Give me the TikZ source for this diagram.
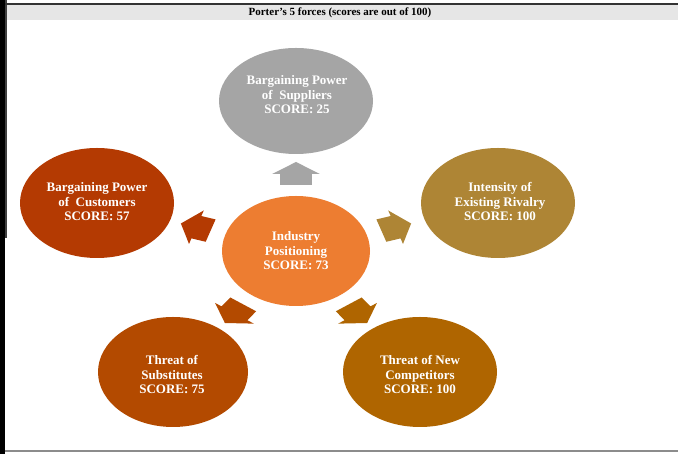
\documentclass[tikz,border=0pt]{standalone}
\usepackage{fontspec}
\setmainfont{Liberation Serif}
\usetikzlibrary{shapes.geometric}
\definecolor{hdr}{HTML}{E6E6E6}
\definecolor{supgray}{HTML}{A5A5A5}
\definecolor{custc}{HTML}{B43A02}
\definecolor{rivalc}{HTML}{AE8535}
\definecolor{centc}{HTML}{ED7D31}
\definecolor{substc}{HTML}{B34A00}
\definecolor{compc}{HTML}{AF6500}
\newcommand\forcearrow[2]{%
  \fill[#2, shift={(296,203)}, xscale=1.36, rotate=#1]
    (66,-11.75) -- (77,-11.75) -- (77,-17.6) -- (89,0) -- (77,17.6) -- (77,11.75) -- (66,11.75) -- cycle;}
\begin{document}
\begin{tikzpicture}[x=1pt,y=1pt,
  force/.style={ellipse, minimum width=154pt, minimum height=110pt, inner sep=0pt},
  ftext/.style={text=white, font=\fontsize{13}{14.5}\selectfont\bfseries, align=center, inner sep=0pt},
  titletext/.style={font=\fontsize{11}{13}\selectfont\bfseries, text=black}]
\useasboundingbox (0,0) rectangle (678,454);
\fill[white] (0,0) rectangle (678,454);
% frame
\fill[black] (0,0) rectangle (5,454);
\fill[black!75] (5,216) rectangle (6.5,454);
\fill[hdr] (6.5,433.5) rectangle (678,449);
\fill[black!80] (5,449) rectangle (678,450.5);
\fill[black!45] (5,2) rectangle (678,3.5);
\node[titletext] (title) at (340,441) {Porter's 5 forces (scores are out of 100)};
% arrows
\forcearrow{90}{supgray}
\forcearrow{162}{custc}
\forcearrow{18}{rivalc}
\forcearrow{234}{substc}
\forcearrow{306}{compc}
% ellipses
\node[force, fill=supgray, minimum height=106pt] (sup) at (296,353) {};
\node[ftext] (supT) at (297,359) {Bargaining Power\\of\ \ Suppliers\\SCORE: 25};
\node[force, fill=custc] (cust) at (97,251) {};
\node[ftext] (custT) at (97,252) {Bargaining Power\\of\ \ Customers\\SCORE: 57};
\node[force, fill=rivalc] (rival) at (498,251) {};
\node[ftext] (rivalT) at (500,252) {Intensity of\\Existing Rivalry\\SCORE: 100};
\node[force, fill=centc, minimum width=148pt] (center) at (296,203) {};
\node[ftext] (centerT) at (296,203) {Industry\\Positioning\\SCORE: 73};
\node[force, fill=substc, minimum width=150pt] (subst) at (173,82) {};
\node[ftext] (substT) at (172,79) {Threat of\\Substitutes\\SCORE: 75};
\node[force, fill=compc] (comp) at (420,82) {};
\node[ftext] (compT) at (420,79) {Threat of New\\Competitors\\SCORE: 100};
\end{tikzpicture}
\end{document}
